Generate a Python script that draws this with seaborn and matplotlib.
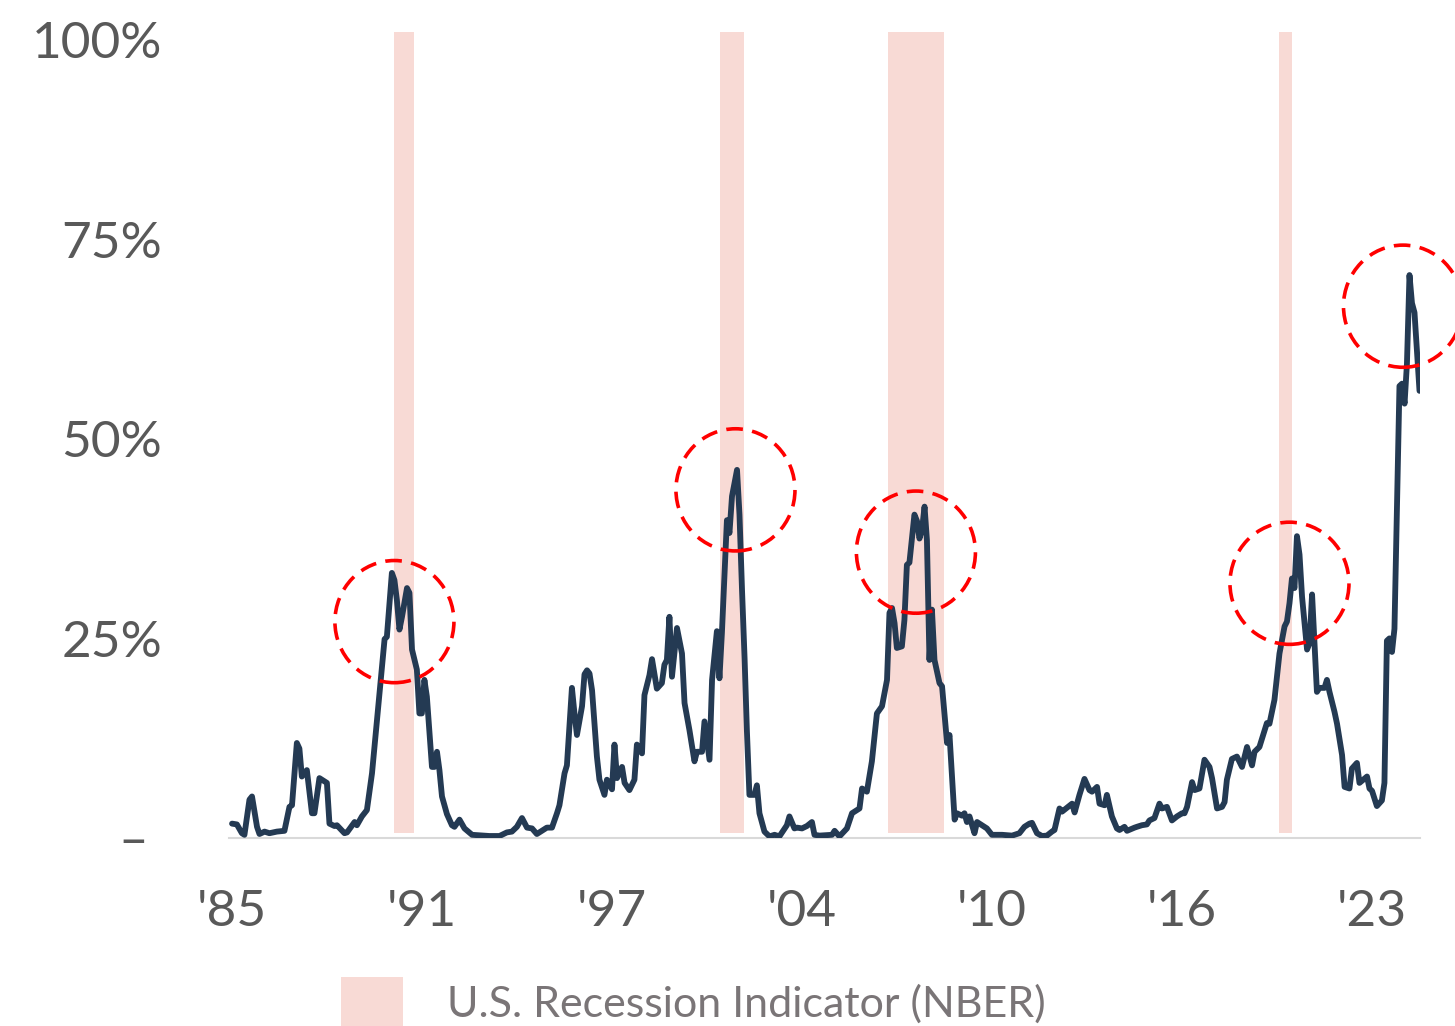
import numpy as np
import pandas as pd
import matplotlib
matplotlib.use("Agg")
import matplotlib.pyplot as plt
import matplotlib.dates as mdates
from matplotlib.patches import Ellipse, Rectangle
import seaborn as sns

# ---------------------------------------------------------------------------
# Data: probability series (%), sampled by months elapsed since Jan 1985
# ---------------------------------------------------------------------------
month_index = [
    0, 2, 4, 5, 7, 8, 10, 11, 13, 15, 18, 21, 23, 24, 26, 27, 28, 30, 32, 33,
    35, 38, 39, 41, 42, 45, 46, 49, 50, 52, 54, 56, 58, 60, 61, 62, 64, 65, 66,
    67, 68, 70, 71, 72, 74, 75, 76, 77, 78, 80, 81, 82, 83, 84, 86, 87, 88, 89,
    91, 93, 96, 103, 107, 110, 112, 114, 116, 118, 120, 122, 124, 126, 128,
    130, 131, 133, 134, 136, 137, 138, 140, 141, 142, 143, 144, 146, 147, 149,
    150, 152, 153, 154, 156, 157, 159, 161, 162, 164, 165, 167, 168, 170, 172,
    173, 174, 175, 176, 178, 180, 181, 183, 185, 186, 188, 189, 191, 192, 194,
    195, 196, 198, 199, 200, 202, 203, 204, 205, 206, 207, 209, 210, 211, 213,
    215, 217, 219, 222, 223, 225, 226, 228, 230, 232, 233, 235, 240, 241, 243,
    246, 248, 251, 252, 254, 256, 257, 258, 260, 262, 263, 264, 265, 266, 268,
    269, 270, 271, 273, 274, 275, 276, 277, 278, 279, 280, 281, 283, 284, 286,
    287, 289, 290, 292, 293, 294, 295, 297, 298, 300, 302, 304, 308, 312, 315,
    317, 319, 320, 322, 324, 326, 328, 329, 331, 332, 334, 336, 337, 339, 341,
    343, 344, 346, 347, 349, 350, 352, 354, 355, 357, 358, 361, 362, 364, 366,
    367, 369, 371, 372, 374, 376, 378, 380, 381, 382, 384, 385, 387, 389, 391,
    392, 394, 396, 397, 398, 400, 402, 404, 406, 408, 409, 411, 414, 415, 417,
    419, 421, 422, 423, 424, 425, 426, 427, 428, 430, 431, 432, 434, 435, 437,
    438, 439, 441, 442, 444, 445, 447, 448, 450, 451, 454, 455, 456, 458, 460,
    461, 462, 463, 464, 465, 467, 468, 469, 470, 471, 472, 473, 475,
]
probability = [
    1.8, 1.7, 0.6, 0.4, 4.8, 5.2, 1.4, 0.5, 0.8, 0.6, 0.8, 0.9, 3.9, 4.1, 11.9,
    11.2, 7.7, 8.5, 3.1, 3.1, 7.5, 6.9, 1.8, 1.5, 1.6, 0.6, 0.7, 2.0, 1.6, 2.7,
    3.5, 8.1, 14.8, 21.5, 24.9, 25.2, 33.2, 32.3, 29.8, 26.1, 27.7, 31.3, 30.7,
    23.6, 21.1, 15.6, 15.6, 19.8, 17.7, 8.9, 8.9, 10.8, 8.5, 5.2, 3.0, 2.3, 1.6,
    1.4, 2.3, 1.2, 0.4, 0.25, 0.25, 0.7, 0.8, 1.4, 2.5, 1.3, 1.2, 0.5, 0.9, 1.3,
    1.3, 3.1, 4.1, 8.1, 9.1, 18.8, 15.6, 12.9, 16.5, 20.5, 21.0, 20.6, 18.5,
    10.2, 7.3, 5.4, 7.3, 6.1, 11.7, 7.5, 8.9, 6.9, 6.0, 7.3, 11.7, 10.6, 17.9,
    20.4, 22.4, 18.7, 19.4, 21.7, 22.3, 27.7, 20.2, 26.3, 23.1, 16.9, 13.5, 9.6,
    10.8, 10.8, 14.6, 9.8, 19.8, 25.9, 20.0, 25.7, 39.8, 38.2, 42.8, 46.1, 40.5,
    31.0, 22.5, 13.5, 5.4, 5.4, 6.6, 3.1, 0.8, 0.2, 0.4, 0.2, 1.6, 2.7, 1.2,
    1.3, 1.2, 1.5, 2.0, 0.4, 0.3, 0.4, 0.9, 0.2, 1.2, 3.1, 3.7, 6.2, 5.8, 9.6,
    12.7, 15.6, 16.5, 19.8, 28.2, 28.8, 26.9, 23.8, 24.0, 27.3, 34.2, 34.5,
    40.5, 39.7, 37.5, 38.6, 41.5, 37.3, 22.3, 28.6, 22.3, 19.4, 19.0, 11.9,
    12.9, 2.3, 3.1, 2.8, 3.1, 2.0, 2.7, 0.6, 2.0, 1.6, 1.2, 0.4, 0.4, 0.3, 0.6,
    1.4, 1.8, 1.9, 0.6, 0.25, 0.3, 0.8, 1.0, 3.7, 3.3, 3.8, 4.3, 3.2, 5.4, 7.4,
    6.0, 5.8, 6.4, 4.3, 4.1, 5.4, 2.7, 1.2, 1.0, 1.4, 0.9, 1.3, 1.4, 1.6, 1.7,
    2.2, 2.5, 4.3, 3.7, 3.9, 2.2, 2.7, 3.1, 3.1, 3.9, 7.0, 6.0, 6.2, 9.8, 8.9,
    7.5, 3.7, 3.9, 4.5, 7.3, 9.9, 10.2, 8.9, 11.4, 9.1, 10.8, 11.4, 14.4, 14.3,
    17.3, 23.1, 26.5, 27.1, 29.4, 32.5, 31.3, 37.8, 35.5, 30.2, 23.6, 24.4,
    30.5, 18.3, 18.8, 18.8, 19.8, 18.3, 15.8, 14.3, 10.4, 6.4, 6.2, 8.7, 9.4,
    6.9, 7.7, 6.2, 5.9, 4.0, 4.7, 6.9, 24.7, 25.0, 23.3, 26.2, 56.6, 56.9, 54.4,
    59.4, 70.5, 67.0, 65.8, 56.0,
]

# Recession shading (NBER indicator), start / end
recession_start = ["1990-05-25", "2001-04-07", "2006-11-12", "2019-11-25"]
recession_end = ["1991-01-25", "2002-01-25", "2008-09-25", "2020-05-01"]

# Highlighted peaks (centre date, centre level in %)
peak_dates = ["1990-06-01", "2001-10-13", "2007-10-19", "2020-04-01", "2024-01-13"]
peak_levels = [27.1, 43.6, 35.8, 31.9, 66.6]

# Axis ticks
x_tick_dates = ["1985-01-01", "1991-05-01", "1997-09-01", "2004-01-01",
                "2010-05-01", "2016-09-01", "2023-01-01"]
x_tick_labels = ["'85", "'91", "'97", "'04", "'10", "'16", "'23"]
y_ticks = [0, 25, 50, 75, 100]
y_tick_labels = ["\u2013 ", "25%", "50%", "75%", "100%"]

legend_label = "U.S. Recession Indicator (NBER)"

# ---------------------------------------------------------------------------
LINE_COLOR = "#243A53"
SHADE_COLOR = "#F8DAD5"
TICK_COLOR = "#595959"
LEGEND_TEXT_COLOR = "#7A7577"

sns.set_theme(style="white")
plt.rcParams["font.family"] = ["Lato", "DejaVu Sans"]

dates = pd.to_datetime([f"{1985 + m // 12}-{m % 12 + 1:02d}-01" for m in month_index])
df = pd.DataFrame({"date": dates, "probability": probability})

W, H = 1455, 1026
fig = plt.figure(figsize=(W / 100, H / 100), dpi=100)
ax = fig.add_axes([229 / W, 1 - 838 / H, (1420 - 229) / W, (838 - 32) / H])

y_top = 100.94
for s, e in zip(recession_start, recession_end):
    ax.axvspan(pd.Timestamp(s), pd.Timestamp(e), ymin=0.6 / y_top, ymax=1.0,
               color=SHADE_COLOR, lw=0, zorder=0)

sns.lineplot(data=df, x="date", y="probability", ax=ax, color=LINE_COLOR,
             linewidth=4.2, sort=False, estimator=None, zorder=3)

ax.set_xlim(pd.Timestamp("1984-11-25"), pd.Timestamp("2024-08-07"))
ax.set_ylim(0, y_top)

# dashed circles around the peaks
circle_w_days = 1449
circle_h = 15.3
for d, lvl in zip(peak_dates, peak_levels):
    ax.add_patch(Ellipse((mdates.date2num(pd.Timestamp(d)), lvl),
                         width=circle_w_days, height=circle_h, fill=False,
                         edgecolor="#FF0000", linewidth=2.6,
                         linestyle=(0, (4.6, 2.6)), clip_on=False, zorder=4))

ax.set_xticks([pd.Timestamp(d) for d in x_tick_dates])
ax.set_xticklabels(x_tick_labels)
ax.set_yticks(y_ticks)
ax.set_yticklabels(y_tick_labels)
ax.tick_params(axis="x", length=0, pad=36.5, labelsize=37, labelcolor=TICK_COLOR)
ax.tick_params(axis="y", length=0, pad=48, labelsize=37, labelcolor=TICK_COLOR)
ax.set_xlabel("")
ax.set_ylabel("")

for side in ["top", "right", "left"]:
    ax.spines[side].set_visible(False)
ax.spines["bottom"].set_color("#D9D9D9")
ax.spines["bottom"].set_linewidth(1.5)
ax.grid(False)

# legend
fig.add_artist(Rectangle((341 / W, 0), 62 / W, 49 / H, transform=fig.transFigure,
                         color=SHADE_COLOR, lw=0))
fig.text(447 / W, 1 - 1004 / H, legend_label, ha="left", va="center",
         fontsize=31, color=LEGEND_TEXT_COLOR)

fig.savefig("out.png", dpi=100)
